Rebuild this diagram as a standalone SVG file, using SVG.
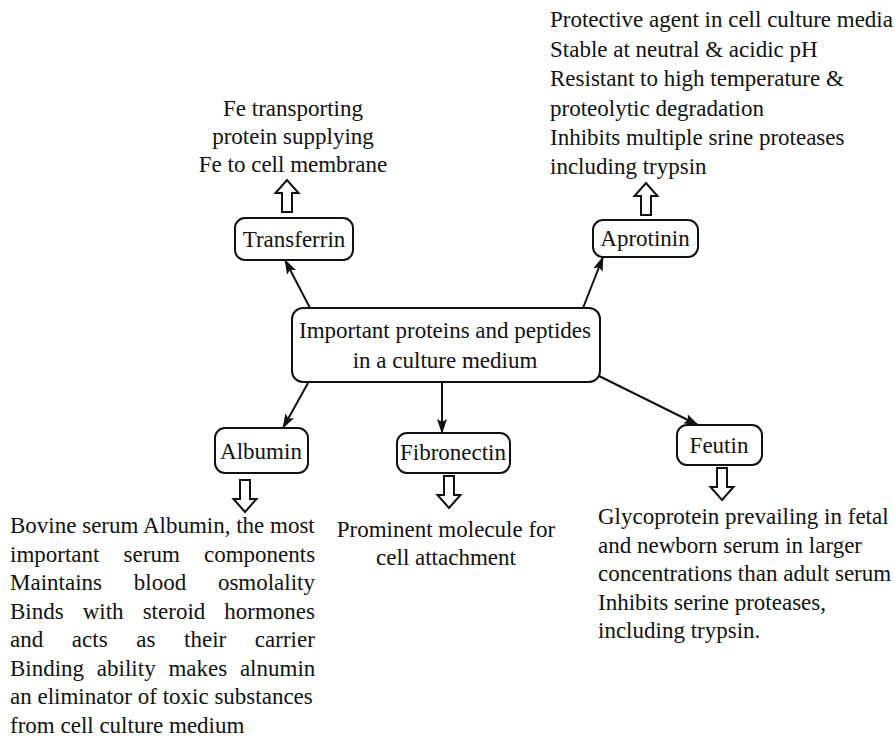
<svg xmlns="http://www.w3.org/2000/svg" width="895" height="739" viewBox="0 0 895 739">
<style>
  text { font-family: "Liberation Serif", "Times New Roman", serif; font-size: 23px; fill: #111; }
  .c { text-anchor: middle; }
  .box { fill: #fff; stroke: #111; stroke-width: 2; }
  .conn { stroke: #111; stroke-width: 2; fill: none; marker-end: url(#ah); }
  .hollow { fill: #fff; stroke: #111; stroke-width: 2; stroke-linejoin: miter; }
</style>
<defs>
  <marker id="ah" viewBox="0 0 15 10" refX="14" refY="5" markerWidth="15" markerHeight="10" markerUnits="userSpaceOnUse" orient="auto">
    <path d="M0,0 L15,5 L0,10 L3,5 Z" fill="#111"/>
  </marker>
  <path id="down" d="M-5,0 H5 V19 H11.5 L0,32 L-11.5,19 H-5 Z"/>
</defs>
<rect width="895" height="739" fill="#fff"/>

<g id="connectors">
  <line class="conn" x1="310" y1="308" x2="285" y2="260"/>
  <line class="conn" x1="583" y1="308" x2="603" y2="257"/>
  <line class="conn" x1="308" y1="383" x2="283" y2="428"/>
  <line class="conn" x1="442" y1="383" x2="442" y2="433"/>
  <line class="conn" x1="597" y1="375" x2="698" y2="425"/>
  <use href="#down" class="hollow" transform="translate(287,212) scale(1,-1)"/>
  <use href="#down" class="hollow" transform="translate(646,215) scale(1,-1)"/>
  <use href="#down" class="hollow" transform="translate(245,480)"/>
  <use href="#down" class="hollow" transform="translate(449,476)"/>
  <use href="#down" class="hollow" transform="translate(722,468)"/>
</g>

<g id="center">
  <rect class="box" x="292" y="308" width="308" height="74" rx="11"/>
  <text class="c" x="445" y="338">Important proteins and peptides</text>
  <text class="c" x="445" y="368">in a culture medium</text>
</g>

<g id="transferrin">
  <rect class="box" x="235" y="218" width="118" height="42" rx="10"/>
  <text class="c" x="294" y="247">Transferrin</text>
</g>
<g id="transferrin-info">
  <text class="c" x="293" y="116">Fe transporting</text>
  <text class="c" x="293" y="144">protein supplying</text>
  <text class="c" x="293" y="172">Fe to cell membrane</text>
</g>

<g id="aprotinin">
  <rect class="box" x="593" y="220" width="105" height="37" rx="10"/>
  <text class="c" x="645" y="246">Aprotinin</text>
</g>
<g id="aprotinin-info">
  <text x="550" y="27">Protective agent in cell culture media</text>
  <text x="550" y="56.5">Stable at neutral &amp; acidic pH</text>
  <text x="550" y="86">Resistant to high temperature &amp;</text>
  <text x="550" y="115.5">proteolytic degradation</text>
  <text x="550" y="145">Inhibits multiple srine proteases</text>
  <text x="550" y="174">including trypsin</text>
</g>

<g id="albumin">
  <rect class="box" x="215" y="428" width="93" height="45" rx="10"/>
  <text class="c" x="261" y="459">Albumin</text>
</g>
<g id="albumin-info">
  <text x="10" y="533">Bovine serum Albumin, the most</text>
  <text x="10" y="562" word-spacing="18.4">important serum components</text>
  <text x="10" y="590" word-spacing="26">Maintains blood osmolality</text>
  <text x="10" y="619" word-spacing="13.3">Binds with steroid hormones</text>
  <text x="10" y="647" word-spacing="22.9">and acts as their carrier</text>
  <text x="10" y="676" word-spacing="7">Binding ability makes alnumin</text>
  <text x="10" y="704">an eliminator of toxic substances</text>
  <text x="10" y="733">from cell culture medium</text>
</g>

<g id="fibronectin">
  <rect class="box" x="397" y="433" width="113" height="40" rx="10"/>
  <text class="c" x="453" y="460">Fibronectin</text>
</g>
<g id="fibronectin-info">
  <text class="c" x="446" y="537">Prominent molecule for</text>
  <text class="c" x="446" y="565">cell attachment</text>
</g>

<g id="feutin">
  <rect class="box" x="677" y="425" width="85" height="40" rx="10"/>
  <text class="c" x="719" y="453">Feutin</text>
</g>
<g id="feutin-info">
  <text x="598" y="524">Glycoprotein prevailing in fetal</text>
  <text x="598" y="552.5">and newborn serum in larger</text>
  <text x="598" y="581">concentrations than adult serum</text>
  <text x="598" y="609.5">Inhibits serine proteases,</text>
  <text x="598" y="638">including trypsin.</text>
</g>
</svg>
